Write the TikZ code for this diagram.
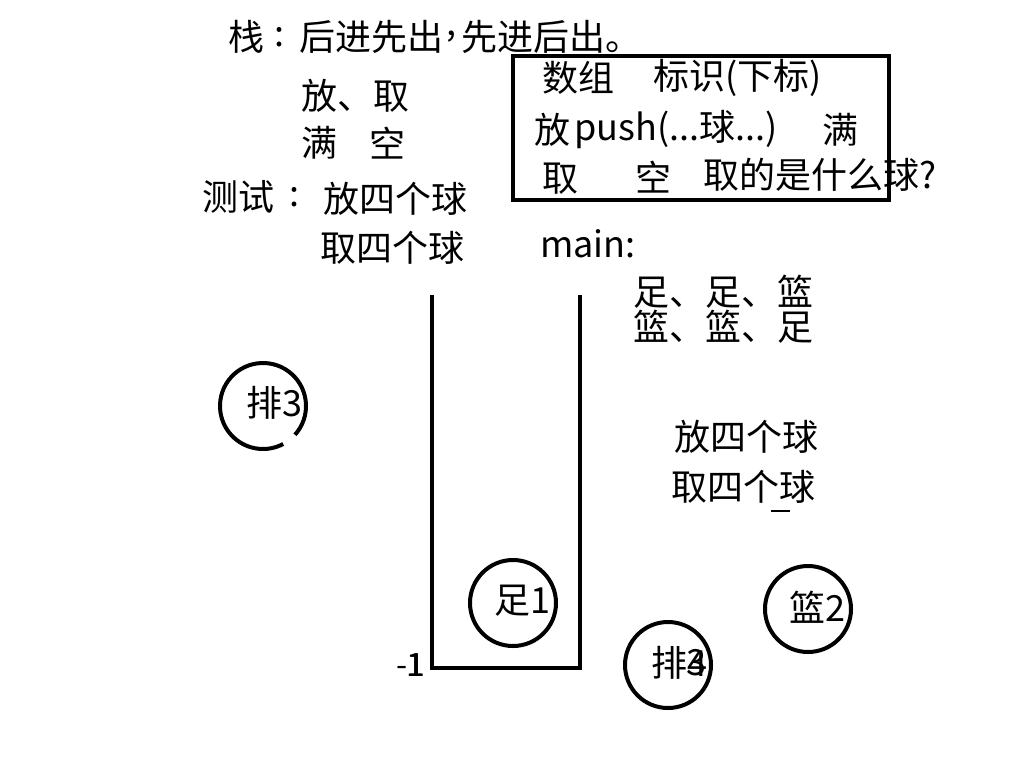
\documentclass[tikz,border=0pt]{standalone}
\usepackage{fontspec}
\setmainfont{Noto Sans CJK SC}
\usetikzlibrary{calc}
\begin{document}
\begin{tikzpicture}[x=0.75pt,y=-0.75pt,
  txt/.style={anchor=west,inner sep=0pt,font=\fontsize{27}{31}\selectfont},
  small/.style={anchor=west,inner sep=0pt,font=\fontsize{24}{28}\selectfont},
  ring/.style={circle,draw,line width=3pt,minimum size=64.5pt,inner sep=0pt},
  bare/.style={circle,minimum size=64.5pt,inner sep=0pt},
  wall/.style={line width=2.4pt}]
\useasboundingbox (0,0) rectangle (1024,768);
\fill[white] (0,0) rectangle (1024,768);
% top line
\node[txt] (t1) at (228,37) {栈};
\node[txt] (t2) at (274,37) {:};
\node[txt] (t3) at (299,37) {后进先出};
\node[txt] (t4) at (446,37) {,};
\node[txt] (t5) at (461,37) {先进后出。};
% left notes
\node[txt] (a1) at (301,96) {放、取};
\node[txt] (a2) at (301,143) {满};
\node[txt] (a3) at (369,143) {空};
\node[txt] (a4) at (202,197) {测试};
\node[txt] (a5) at (289,197) {:};
\node[txt] (a6) at (323,199) {放四个球};
\node[txt] (a7) at (320,248) {取四个球};
% box
\coordinate (b1) at (513,56);
\coordinate (b2) at (889,200);
\draw[wall] (b1) rectangle (b2);
\node[txt] (k1) at (542,78) {数组};
\node[txt] (k2) at (653,78) {标识(下标)};
\node[txt] (k3) at (534,130) {放};
\node[txt] (k4) at (574,130) {push(...球...)};
\node[txt] (k5) at (822,130) {满};
\node[txt] (k6) at (542,179) {取};
\node[txt] (k7) at (635,177) {空};
\node[txt] (k8) at (703,175) {取的是什么球?};
% main
\node[txt] (m1) at (540,244) {main:};
\node[txt] (m2) at (633,292) {足、足、篮};
\node[txt] (m3) at (633,327) {篮、篮、足};
\node[txt] (m4) at (674,437) {放四个球};
\node[txt] (m5) at (671,487) {取四个球};
\coordinate (d1) at (771,511);
\coordinate (d2) at (790,511);
\draw[line width=1.5pt] (d1) -- (d2);
% stack
\coordinate (s1) at (432,295);
\coordinate (s2) at (432,668);
\coordinate (s3) at (580,668);
\coordinate (s4) at (580,295);
\draw[wall] (s1) -- (s2) -- (s3) -- (s4);
\node[small] (n1) at (396,665) {-1};
\node[small] (n2) at (406,665) {1};
% balls
\node[bare] (p3) at (263,406) {};
\draw[line width=3pt] ($(p3.center)+(-42:32.25pt)$) arc[start angle=-42,end angle=298,radius=32.25pt];
\node[txt] (p3t) at (246,403) {排3};
\node[ring] (f1) at (513,603) {};
\node[txt] (f1t) at (494,601) {足1};
\node[ring] (p4) at (668,665) {};
\node[txt] (p4t) at (651,663) {排4};
\node[txt] (p4u) at (686,663) {3};
\node[ring] (l2) at (808,609) {};
\node[txt] (l2t) at (789,607) {篮2};
\end{tikzpicture}
\end{document}
